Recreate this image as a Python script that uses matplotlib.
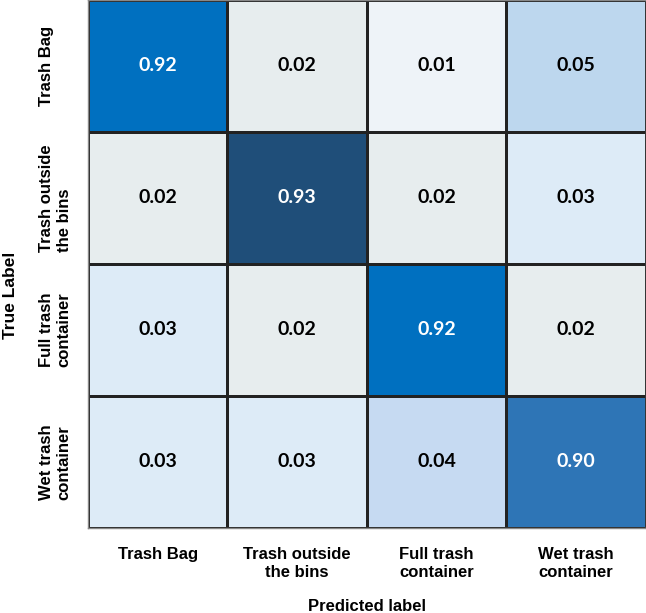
import matplotlib.pyplot as plt
import numpy as np
from matplotlib.colors import ListedColormap, BoundaryNorm

# Confusion matrix values (rows = true, cols = predicted)
classes = ['Trash Bag', 'Trash outside\nthe bins', 'Full trash\ncontainer', 'Wet trash\ncontainer']
cm = np.array([
    [0.92, 0.02, 0.01, 0.05],
    [0.02, 0.93, 0.02, 0.03],
    [0.03, 0.02, 0.92, 0.02],
    [0.03, 0.03, 0.04, 0.90],
])

# Discrete colour for each distinct value (cells were hand-shaded)
levels = [0.01, 0.02, 0.03, 0.04, 0.05, 0.90, 0.92, 0.93]
level_colors = ['#EEF3F8', '#E7EDEE', '#DDEBF7', '#C6DAF2', '#BDD7EE',
                '#2E75B6', '#0070C0', '#1F4E79']
bounds = [0.0] + [(a + b) / 2 for a, b in zip(levels[:-1], levels[1:])] + [1.0]
cmap = ListedColormap(level_colors)
norm = BoundaryNorm(bounds, cmap.N)

fig = plt.figure(figsize=(6.46, 6.13), dpi=100)
ax = fig.add_axes([0.136, 0.139, 0.864, 0.861])

n = len(classes)
ax.pcolormesh(np.arange(n + 1), np.arange(n + 1), cm, cmap=cmap, norm=norm,
              edgecolors='#222222', linewidth=0.8)
ax.set_xlim(0, n)
ax.set_ylim(n, 0)

for i in range(n):
    for j in range(n):
        v = cm[i, j]
        ax.text(j + 0.5, i + 0.5, f'{v:.2f}', ha='center', va='center',
                fontsize=14, fontweight='bold', family='Lato',
                color='white' if v > 0.5 else 'black')

lab = dict(fontsize=12, fontweight='bold', family='Liberation Sans')
ax.set_xticks(np.arange(n) + 0.5)
ax.set_yticks(np.arange(n) + 0.5)
ax.set_xticklabels(classes, **lab)
ax.set_yticklabels(classes, rotation=90, va='center', ha='left', **lab)
ax.tick_params(length=0)
ax.tick_params(axis='x', pad=14)
ax.tick_params(axis='y', pad=35)

ax.set_xlabel('Predicted label', labelpad=14, **lab)
ax.set_ylabel('True Label', fontsize=12.5, fontweight='bold', family='Liberation Sans')
ax.yaxis.set_label_coords(-0.138, 0.44)
ax.yaxis.label.set_va('center')

for s in ax.spines.values():
    s.set_color('#888888')
    s.set_linewidth(1.0)

fig.savefig('out.png', dpi=100)
